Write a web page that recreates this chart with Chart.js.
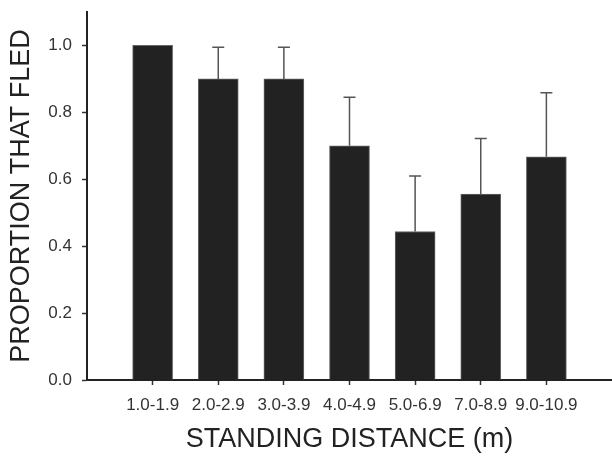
<!DOCTYPE html>
<html>
<head>
<meta charset="utf-8">
<script src="https://cdn.jsdelivr.net/npm/chart.js@4"></script>
<style>
  html, body { margin: 0; padding: 0; background: #fff; }
</style>
</head>
<body>
<canvas id="myChart" width="612" height="456"></canvas>
<script>
// data
const categories = ['1.0-1.9', '2.0-2.9', '3.0-3.9', '4.0-4.9', '5.0-6.9', '7.0-8.9', '9.0-10.9'];
const proportions = [1.0, 0.9, 0.9, 0.7, 0.444, 0.556, 0.667];
const stdErrors = [0, 0.095, 0.095, 0.145, 0.166, 0.166, 0.192];
const yTicks = [0, 0.2, 0.4, 0.6, 0.8, 1.0];

const FONT = "'Liberation Sans', Arial, sans-serif";

// upper error bars with caps
const errorBars = {
    id: 'errorBars',
    afterDatasetsDraw(chart) {
        const xs = chart.scales.x;
        const ys = chart.scales.y;
        const ctx = chart.ctx;
        ctx.save();
        ctx.strokeStyle = '#555';
        ctx.lineWidth = 1.5;
        proportions.forEach(function (v, i) {
            if (!stdErrors[i]) return;
            const x = xs.getPixelForValue(i + 1);
            const y0 = ys.getPixelForValue(v);
            const y1 = ys.getPixelForValue(v + stdErrors[i]);
            ctx.beginPath();
            ctx.moveTo(x, y0);
            ctx.lineTo(x, y1);
            ctx.moveTo(x - 6, y1);
            ctx.lineTo(x + 6, y1);
            ctx.stroke();
        });
        ctx.restore();
    }
};

const ctx = document.getElementById('myChart');

new Chart(ctx, {
    type: 'bar',
    data: {
        datasets: [{
            data: proportions.map(function (v, i) { return { x: i + 1, y: v }; }),
            backgroundColor: '#222',
            borderColor: '#666',
            borderWidth: 1,
            barThickness: 40
        }]
    },
    options: {
        responsive: false,
        animation: false,
        layout: { padding: { top: 12, right: 0, left: 0, bottom: 0 } },
        plugins: {
            legend: { display: false },
            tooltip: { enabled: false }
        },
        scales: {
            x: {
                type: 'linear',
                offset: false,
                min: 0,
                max: 8,
                afterBuildTicks: function (s) {
                    s.ticks = categories.map(function (c, i) { return { value: i + 1 }; });
                },
                afterFit: function (s) {
                    s.height = 76;
                    s.paddingLeft = 0;
                    s.paddingRight = 0;
                },
                border: { color: '#222', width: 2 },
                grid: { offset: false, drawOnChartArea: false, drawTicks: true, tickLength: 5, tickColor: '#333', tickWidth: 1.5 },
                ticks: {
                    autoSkip: false,
                    maxRotation: 0,
                    padding: 10,
                    color: '#333',
                    font: { family: FONT, size: 17 },
                    callback: function (v) { return categories[v - 1] || ''; }
                },
                title: {
                    display: true,
                    text: 'STANDING DISTANCE (m)',
                    color: '#222',
                    font: { family: FONT, size: 27 },
                    padding: { top: 0, bottom: 0 }
                }
            },
            y: {
                min: 0,
                max: 1.1,
                afterBuildTicks: function (s) {
                    s.ticks = yTicks.map(function (v) { return { value: v }; });
                },
                afterFit: function (s) {
                    s.width = 87;
                    s.paddingTop = 0;
                    s.paddingBottom = 0;
                },
                border: { color: '#222', width: 2 },
                grid: { drawOnChartArea: false, drawTicks: true, tickLength: 5, tickColor: '#333', tickWidth: 1.5 },
                ticks: {
                    padding: 10,
                    color: '#333',
                    font: { family: FONT, size: 17 },
                    callback: function (v) { return Number(v).toFixed(1); }
                },
                title: {
                    display: true,
                    text: 'PROPORTION THAT FLED',
                    color: '#222',
                    font: { family: FONT, size: 27 },
                    padding: { top: 5, bottom: 0 }
                }
            }
        }
    },
    plugins: [errorBars]
});
</script>
</body>
</html>
